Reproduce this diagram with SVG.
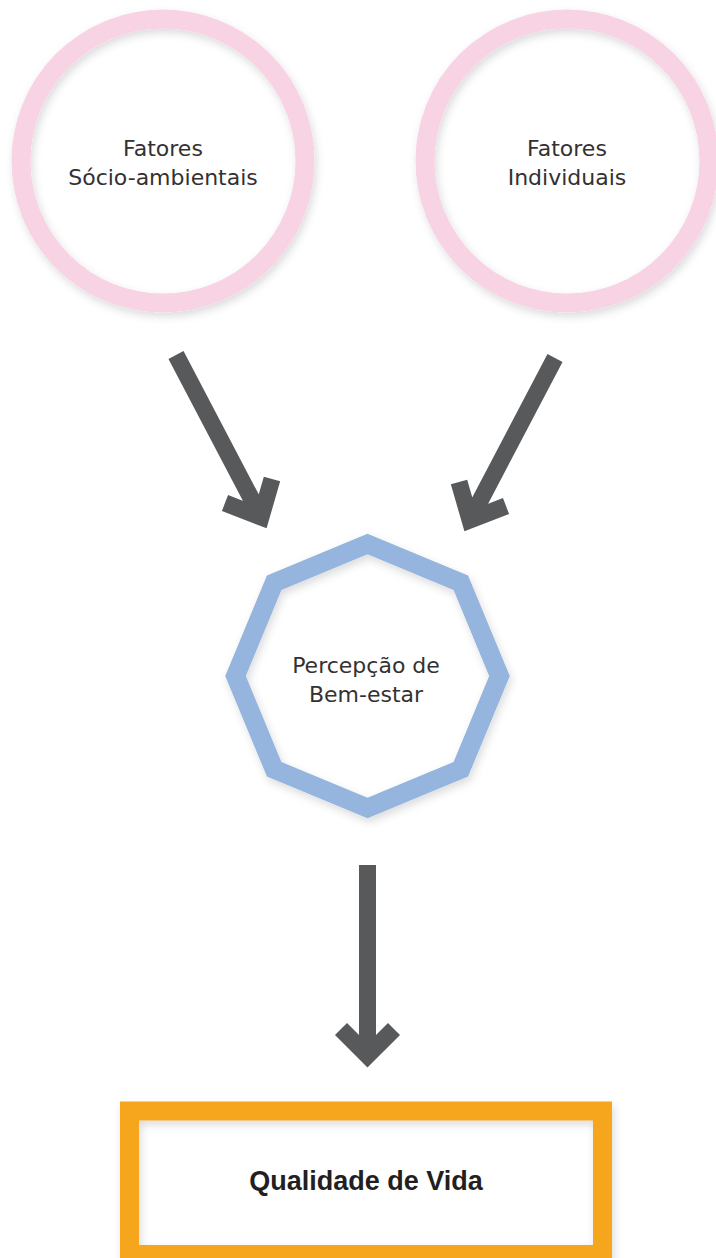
<svg xmlns="http://www.w3.org/2000/svg" width="716" height="1258" viewBox="0 0 716 1258">
  <defs>
    <filter id="sh" x="-20%" y="-20%" width="140%" height="140%">
      <feDropShadow dx="2" dy="4" stdDeviation="4" flood-color="#000" flood-opacity="0.14"/>
    </filter>
    <style>
      .ring { fill: none; stroke-width: 19; filter: url(#sh); }
      .pink { stroke: #f8d3e4; }
      .blue { stroke: #95b4de; stroke-linejoin: miter; }
      .orange { stroke: #f6a61f; }
      .lbl { font-family: "DejaVu Sans", sans-serif; font-size: 22px; fill: #333132; text-anchor: middle; }
      .bold { font-family: "Liberation Sans", Arial, sans-serif; font-size: 27px; font-weight: bold; fill: #231f20; text-anchor: middle; }
      .arrow { fill: none; stroke: #58595b; stroke-width: 17; stroke-linejoin: miter; stroke-linecap: butt; }
    </style>
  </defs>
  <rect width="716" height="1258" fill="#ffffff"/>

  <g id="node-socio">
    <circle class="ring pink" cx="163" cy="161" r="142"/>
    <text class="lbl" x="163" y="156">Fatores</text>
    <text class="lbl" x="163" y="185">Sócio-ambientais</text>
  </g>

  <g id="node-individuais">
    <circle class="ring pink" cx="567" cy="161" r="142"/>
    <text class="lbl" x="567" y="156">Fatores</text>
    <text class="lbl" x="567" y="185">Individuais</text>
  </g>

  <g id="node-percepcao">
    <polygon class="ring blue" points="367.5,544 460.8,582.7 499.5,676 460.8,769.3 367.5,808 274.2,769.3 235.5,676 274.2,582.7"/>
    <text class="lbl" x="366" y="673">Percepção de</text>
    <text class="lbl" x="366" y="702">Bem-estar</text>
  </g>

  <g id="node-qualidade">
    <rect class="ring orange" x="129.5" y="1111" width="473" height="143.5"/>
    <text class="bold" x="366" y="1190">Qualidade de Vida</text>
  </g>

  <g id="connectors">
    <path class="arrow" d="M176,355 L261,517 M272,479 L261,517 L225,503"/>
    <path class="arrow" d="M555,358 L470,520 M459,482 L470,520 L506,506"/>
    <path class="arrow" d="M367.5,865 L367.5,1055 M341,1029 L367.5,1055.5 L394,1029"/>
  </g>
</svg>
